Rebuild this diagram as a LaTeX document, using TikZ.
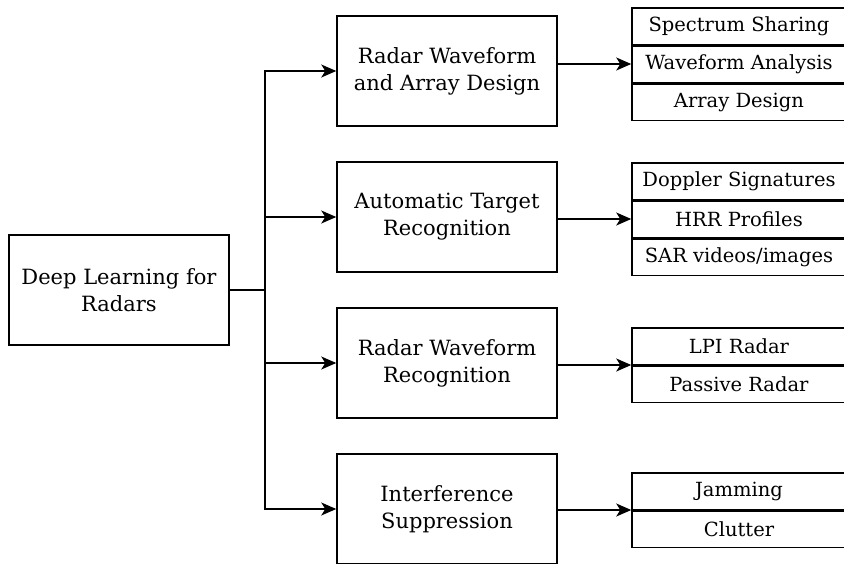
\documentclass[tikz,border=0pt]{standalone}
\usepackage{fontspec}
\setmainfont{DejaVu Serif}
\usetikzlibrary{arrows.meta}
\begin{document}
\begin{tikzpicture}[x=1pt, y=-1pt, line width=1.5pt,
  topic/.style={draw, minimum width=220pt, minimum height=110pt, align=center, inner sep=0pt,
    font=\fontsize{21}{27}\selectfont},
  cell/.style={draw, minimum width=214pt, minimum height=36.5pt, inner sep=0pt, anchor=north,
    font=\fontsize{19.5}{24}\selectfont},
  arr/.style={-{Stealth[length=15pt, width=13pt, inset=4pt]}}]
\useasboundingbox (0,0) rectangle (844,563);
\clip (0,0) rectangle (844,563);

% root topic
\node[topic] (root) at (119,290) {Deep Learning for\\Radars};

% research areas
\node[topic] (m1) at (447,71)  {Radar Waveform\\and Array Design};
\node[topic] (m2) at (447,217) {Automatic Target\\Recognition};
\node[topic] (m3) at (447,363) {Radar Waveform\\Recognition};
\node[topic] (m4) at (447,509) {Interference\\Suppression};

% sub-topic stacks
\node[cell] (a1) at (739,7) {Spectrum Sharing};
\node[cell] (a2) at (a1.south) {Waveform Analysis};
\node[cell] (a3) at (a2.south) {Array Design};

\node[cell] (b1) at (739,162) {Doppler Signatures};
\node[cell] (b2) at (b1.south) {HRR Profiles};
\node[cell] (b3) at (b2.south) {SAR videos/images};

\node[cell] (c1) at (739,327) {LPI Radar};
\node[cell] (c2) at (c1.south) {Passive Radar};

\node[cell] (d1) at (739,472) {Jamming};
\node[cell] (d2) at (d1.south) {Clutter};

% tree trunk
\coordinate (j) at (265,290);
\draw (root.east) -- (j);
\draw[arr] (j) |- (m1.west);
\draw[arr] (j) |- (m2.west);
\draw[arr] (j) |- (m3.west);
\draw[arr] (j) |- (m4.west);

% links to sub-topics
\draw[arr] (m1.east |- a2.west) -- (a2.west);
\draw[arr] (m2.east |- b2.west) -- (b2.west);
\draw[arr] (m3.east |- c1.south west) -- (c1.south west);
\draw[arr] (m4.east |- d1.south west) -- (d1.south west);
\end{tikzpicture}
\end{document}
